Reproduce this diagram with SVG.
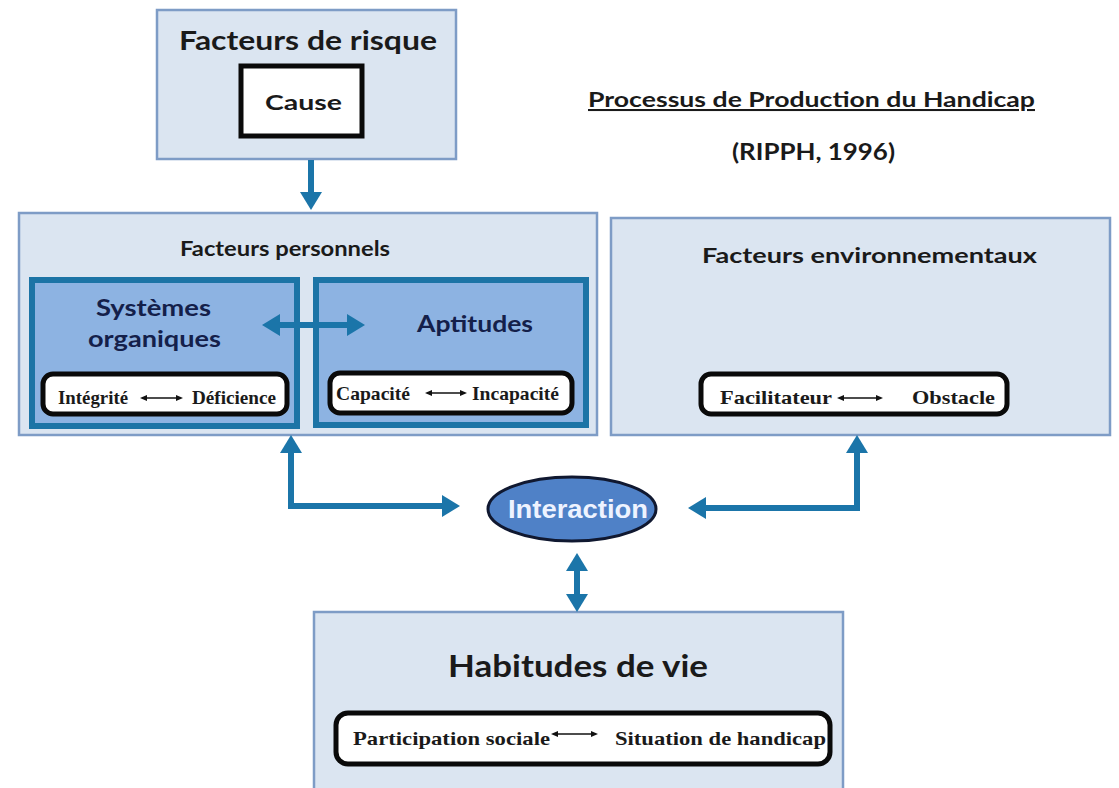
<svg xmlns="http://www.w3.org/2000/svg" width="1119" height="788" viewBox="0 0 1119 788">
<defs>
<style>
.light{fill:#dbe5f1;stroke:#7e9cc6;stroke-width:2.5}
.inner{fill:#8db3e2;stroke:#1c74a6;stroke-width:6}
.tbox{fill:#ffffff;stroke:#0a0a0a;stroke-width:5}
.h{font-family:Lato,"Open Sans",sans-serif;font-weight:bold;fill:#1a1a1a}
.hn{font-family:Lato,"Open Sans",sans-serif;font-weight:bold;fill:#14204a}
.s{font-family:"Liberation Serif",serif;font-weight:bold;font-size:19px;fill:#1a1a1a}
.conn{fill:none;stroke:#1b75a9;stroke-width:6}
.small{fill:none;stroke:#111;stroke-width:1.6}
</style>
<marker id="ah" markerUnits="userSpaceOnUse" markerWidth="20" markerHeight="22" refX="8" refY="11" orient="auto-start-reverse">
<path d="M0,0 L18,11 L0,22 z" fill="#1b75a9"/>
</marker>
<marker id="sh" markerUnits="userSpaceOnUse" markerWidth="8" markerHeight="8" refX="3" refY="3" orient="auto-start-reverse">
<path d="M0,0 L7,3 L0,6 z" fill="#111"/>
</marker>
</defs>
<rect width="1119" height="788" fill="#ffffff"/>

<g id="titre">
<text class="h" x="588" y="107" font-size="20.5" textLength="447" lengthAdjust="spacingAndGlyphs" text-decoration="underline">Processus de Production du Handicap</text>
<text class="h" x="732" y="160" font-size="22.5" textLength="163" lengthAdjust="spacingAndGlyphs">(RIPPH, 1996)</text>
</g>

<g id="facteurs-risque">
<rect class="light" x="157" y="10" width="299" height="149"/>
<text class="h" x="179" y="50" font-size="26.5" textLength="258" lengthAdjust="spacingAndGlyphs">Facteurs de risque</text>
<rect class="tbox" x="241" y="66" width="121" height="70"/>
<text class="h" x="265" y="110" font-size="21.5" textLength="77" lengthAdjust="spacingAndGlyphs">Cause</text>
</g>

<g id="facteurs-personnels">
<rect class="light" x="19" y="213" width="578" height="222"/>
<text class="h" x="180" y="256" font-size="21" textLength="210" lengthAdjust="spacingAndGlyphs">Facteurs personnels</text>
</g>

<g id="systemes-organiques">
<rect class="inner" x="32" y="280" width="265" height="146"/>
<text class="hn" x="96" y="316" font-size="22" textLength="115" lengthAdjust="spacingAndGlyphs">Systèmes</text>
<text class="hn" x="88" y="347" font-size="22" textLength="133" lengthAdjust="spacingAndGlyphs">organiques</text>
<rect class="tbox" x="43" y="374" width="244" height="40" rx="10"/>
<text class="s" x="58" y="404" textLength="70" lengthAdjust="spacingAndGlyphs">Intégrité</text>
<line class="small" x1="144" y1="398" x2="179" y2="398" marker-start="url(#sh)" marker-end="url(#sh)"/>
<text class="s" x="192" y="404" textLength="84" lengthAdjust="spacingAndGlyphs">Déficience</text>
</g>

<g id="aptitudes">
<rect class="inner" x="316" y="280" width="270" height="145"/>
<text class="hn" x="417" y="332" font-size="22" textLength="116" lengthAdjust="spacingAndGlyphs">Aptitudes</text>
<rect class="tbox" x="330" y="373" width="242" height="40" rx="10"/>
<text class="s" x="336" y="400" textLength="74" lengthAdjust="spacingAndGlyphs">Capacité</text>
<line class="small" x1="429" y1="393" x2="463" y2="393" marker-start="url(#sh)" marker-end="url(#sh)"/>
<text class="s" x="472" y="400" textLength="87" lengthAdjust="spacingAndGlyphs">Incapacité</text>
</g>

<g id="facteurs-environnementaux">
<rect class="light" x="611" y="218" width="499" height="217"/>
<text class="h" x="702" y="263" font-size="21" textLength="335" lengthAdjust="spacingAndGlyphs">Facteurs environnementaux</text>
<rect class="tbox" x="701" y="374" width="306" height="40" rx="10"/>
<text class="s" x="720" y="404" textLength="112" lengthAdjust="spacingAndGlyphs">Facilitateur</text>
<line class="small" x1="841" y1="398" x2="879" y2="398" marker-start="url(#sh)" marker-end="url(#sh)"/>
<text class="s" x="912" y="404" textLength="83" lengthAdjust="spacingAndGlyphs">Obstacle</text>
</g>

<g id="interaction">
<ellipse cx="572" cy="509" rx="84" ry="32" fill="#4f81c7" stroke="#101830" stroke-width="3"/>
<text x="508" y="518" font-family="'Liberation Sans',Arial,sans-serif" font-weight="bold" font-size="26" fill="#eef3ff" textLength="140" lengthAdjust="spacingAndGlyphs">Interaction</text>
</g>

<g id="habitudes-de-vie">
<rect class="light" x="314" y="612" width="529" height="190"/>
<text class="h" x="448" y="677" font-size="31" textLength="260" lengthAdjust="spacingAndGlyphs">Habitudes de vie</text>
<rect class="tbox" x="336" y="713" width="494" height="51" rx="12"/>
<text class="s" x="353" y="745" font-size="20" textLength="197" lengthAdjust="spacingAndGlyphs">Participation sociale</text>
<line class="small" x1="555" y1="734" x2="594" y2="734" marker-start="url(#sh)" marker-end="url(#sh)"/>
<text class="s" x="615" y="745" font-size="20" textLength="211" lengthAdjust="spacingAndGlyphs">Situation de handicap</text>
</g>

<g id="connecteurs">
<path class="conn" d="M311,160 L311,200" marker-end="url(#ah)"/>
<path class="conn" d="M272,325 L355,325" marker-start="url(#ah)" marker-end="url(#ah)"/>
<path class="conn" d="M291,445 L291,506 L450,506" marker-start="url(#ah)" marker-end="url(#ah)"/>
<path class="conn" d="M857,445 L857,508 L698,508" marker-start="url(#ah)" marker-end="url(#ah)"/>
<path class="conn" d="M577,563 L577,602" marker-start="url(#ah)" marker-end="url(#ah)"/>
</g>
</svg>
